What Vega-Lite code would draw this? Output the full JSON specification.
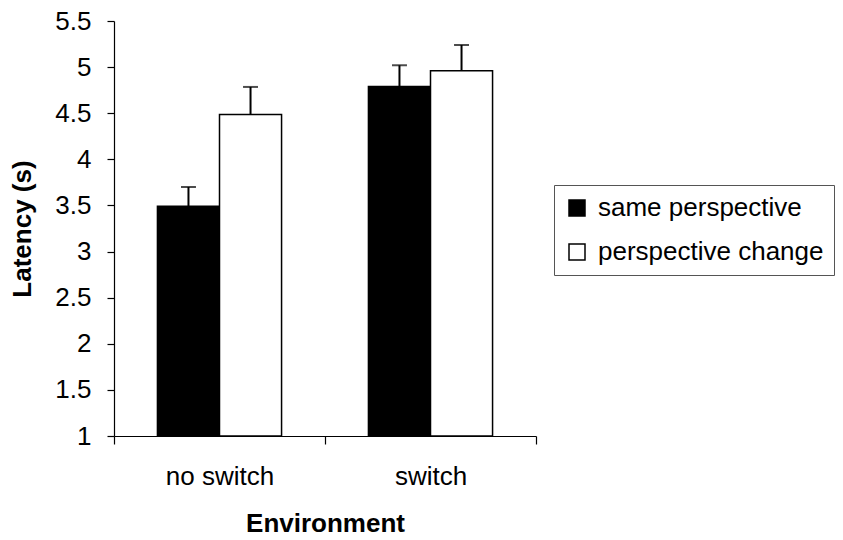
{
  "$schema": "https://vega.github.io/schema/vega-lite/v6.json",
  "width": 422,
  "height": 415,
  "autosize": {"type": "none"},
  "padding": {"left": 114, "top": 21, "right": 307, "bottom": 104},
  "background": "white",
  "config": {
    "font": "Liberation Sans",
    "view": {"stroke": null},
    "axis": {
      "grid": false,
      "domainColor": "black",
      "domainWidth": 1.2,
      "tickColor": "black",
      "tickWidth": 1.2,
      "labelColor": "black",
      "titleColor": "black",
      "labelFontSize": 26,
      "titleFontSize": 26,
      "labelFont": "Liberation Sans",
      "titleFont": "Liberation Sans",
      "labelFontWeight": "normal",
      "titleFontWeight": "bold"
    }
  },
  "data": {
    "values": [
      {"env": "no switch", "cond": "same perspective", "latency": 3.49, "upper": 3.70},
      {"env": "no switch", "cond": "perspective change", "latency": 4.485, "upper": 4.785},
      {"env": "switch", "cond": "same perspective", "latency": 4.79, "upper": 5.02},
      {"env": "switch", "cond": "perspective change", "latency": 4.96, "upper": 5.24}
    ]
  },
  "encoding": {
    "x": {
      "field": "env",
      "type": "nominal",
      "sort": ["no switch", "switch"],
      "scale": {"paddingInner": 0, "paddingOuter": 0},
      "axis": {"title": "Environment", "labelAngle": 0, "tickBand": "extent", "tickSize": 8, "labelPadding": 19, "titlePadding": 21}
    },
    "xOffset": {
      "field": "cond",
      "type": "nominal",
      "sort": ["same perspective", "perspective change"],
      "scale": {"paddingInner": 0, "paddingOuter": 0.7}
    }
  },
  "layer": [
    {
      "mark": {"type": "bar", "stroke": "black", "strokeWidth": 1.5},
      "encoding": {
        "y": {
          "field": "latency",
          "type": "quantitative",
          "scale": {"domain": [1, 5.5], "nice": false, "zero": false},
          "axis": {"title": "Latency (s)", "values": [1, 1.5, 2, 2.5, 3, 3.5, 4, 4.5, 5, 5.5], "format": "~g", "tickSize": 7, "labelPadding": 16, "titlePadding": 19}
        },
        "y2": {"datum": 1},
        "fill": {
          "field": "cond",
          "type": "nominal",
          "sort": ["same perspective", "perspective change"],
          "scale": {"domain": ["same perspective", "perspective change"], "range": ["black", "white"]},
          "legend": {
            "title": null,
            "orient": "none",
            "legendX": 440,
            "legendY": 164,
            "strokeColor": "#555",
            "padding": 10,
            "symbolType": "square",
            "symbolSize": 256,
            "symbolStrokeColor": "black",
            "symbolStrokeWidth": 1.5,
            "labelFontSize": 26,
            "labelColor": "black",
            "labelOffset": 8,
            "labelLimit": 0,
            "rowPadding": 18,
            "labelFont": "Liberation Sans"
          }
        }
      }
    },
    {
      "mark": {"type": "rule", "color": "black", "strokeWidth": 2},
      "encoding": {
        "y": {"field": "latency", "type": "quantitative"},
        "y2": {"field": "upper"}
      }
    },
    {
      "mark": {"type": "tick", "color": "black", "size": 15, "thickness": 2},
      "encoding": {
        "y": {"field": "upper", "type": "quantitative"}
      }
    }
  ]
}
